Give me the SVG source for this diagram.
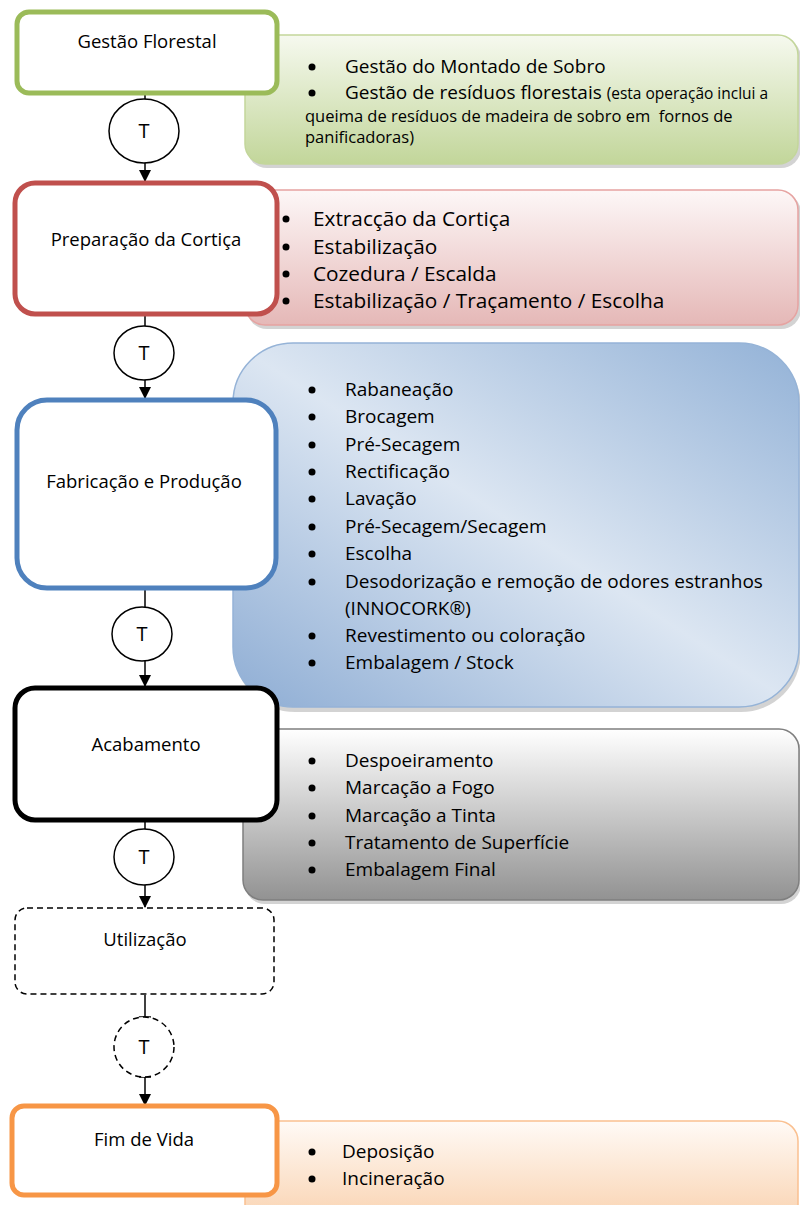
<svg xmlns="http://www.w3.org/2000/svg" width="800" height="1205" viewBox="0 0 800 1205">
<style>
text{font-family:"Open Sans",Lato,"Liberation Sans",sans-serif;fill:#000}
.lbl{font-size:18.5px;text-anchor:middle}
.it{font-size:19px}
.itr{font-size:20.8px}
.sm{font-size:16.5px}
.sm2{font-size:15.5px}
.node{fill:#fff;stroke-width:5}
.conn{stroke:#000;stroke-width:1.5;fill:none}
.tc{fill:#fff;stroke:#000;stroke-width:1.5}
.tt{font-size:20px;text-anchor:middle}
.sh{fill:#b5b5b5;opacity:.6}
</style>
<defs>
<linearGradient id="gG" x1="0" y1="0" x2="0" y2="1"><stop offset="0" stop-color="#f6f9ef"/><stop offset="1" stop-color="#c2d69a"/></linearGradient>
<linearGradient id="gR" x1="0" y1="0" x2="0" y2="1"><stop offset="0" stop-color="#fdf7f7"/><stop offset="1" stop-color="#e5b8b7"/></linearGradient>
<linearGradient id="gB" x1="0" y1="1" x2="1" y2="0"><stop offset="0" stop-color="#8eadd4"/><stop offset="0.5" stop-color="#dce6f2"/><stop offset="1" stop-color="#93b2d7"/></linearGradient>
<linearGradient id="gK" x1="0" y1="0" x2="0" y2="1"><stop offset="0" stop-color="#ffffff"/><stop offset="1" stop-color="#929292"/></linearGradient>
<linearGradient id="gO" x1="0" y1="0" x2="0" y2="1"><stop offset="0" stop-color="#fffaf6"/><stop offset="1" stop-color="#f9cfaa"/></linearGradient>
<marker id="ah" markerWidth="12" markerHeight="12" refX="11" refY="6" orient="auto" markerUnits="userSpaceOnUse"><path d="M0,0 L12,6 L0,12 z" fill="#000"/></marker>
</defs>

<g id="panel-green">
<rect class="sh" x="247" y="38" width="554" height="130" rx="20"/>
<rect x="245" y="35" width="553" height="129" rx="20" fill="url(#gG)" stroke="#c3d69b" stroke-width="1.5"/>
<circle cx="312" cy="67" r="3.5"/><text class="it" x="345" y="73">Gestão do Montado de Sobro</text>
<circle cx="312" cy="93" r="3.5"/><text class="it" x="345" y="99">Gestão de resíduos florestais <tspan class="sm2">(esta operação inclui a</tspan></text>
<text class="sm" x="305" y="122" xml:space="preserve">queima de resíduos de madeira de sobro em  fornos de</text>
<text class="sm" x="305" y="143">panificadoras)</text>
</g>

<g id="panel-red">
<rect class="sh" x="247" y="193" width="554" height="136" rx="20"/>
<rect x="245" y="190" width="553" height="135" rx="20" fill="url(#gR)" stroke="#e6a3a1" stroke-width="1.5"/>
<circle cx="286" cy="219" r="3.5"/><text class="itr" x="313" y="226">Extracção da Cortiça</text>
<circle cx="286" cy="247" r="3.5"/><text class="itr" x="313" y="254">Estabilização</text>
<circle cx="286" cy="274" r="3.5"/><text class="itr" x="313" y="281">Cozedura / Escalda</text>
<circle cx="286" cy="301" r="3.5"/><text class="itr" x="313" y="308">Estabilização / Traçamento / Escolha</text>
</g>

<g id="panel-blue">
<rect class="sh" x="235" y="346" width="566" height="366" rx="60"/>
<rect x="233" y="343" width="566" height="364" rx="60" fill="url(#gB)" stroke="#95b3d7" stroke-width="1.5"/>
<circle cx="312" cy="390" r="3.5"/><text class="it" x="345" y="396">Rabaneação</text>
<circle cx="312" cy="417" r="3.5"/><text class="it" x="345" y="423">Brocagem</text>
<circle cx="312" cy="445" r="3.5"/><text class="it" x="345" y="451">Pré-Secagem</text>
<circle cx="312" cy="472" r="3.5"/><text class="it" x="345" y="478">Rectificação</text>
<circle cx="312" cy="499" r="3.5"/><text class="it" x="345" y="505">Lavação</text>
<circle cx="312" cy="527" r="3.5"/><text class="it" x="345" y="533">Pré-Secagem/Secagem</text>
<circle cx="312" cy="554" r="3.5"/><text class="it" x="345" y="560">Escolha</text>
<circle cx="312" cy="582" r="3.5"/><text class="it" x="345" y="588">Desodorização e remoção de odores estranhos</text>
<text class="it" x="345" y="615">(INNOCORK®)</text>
<circle cx="312" cy="636" r="3.5"/><text class="it" x="345" y="642">Revestimento ou coloração</text>
<circle cx="312" cy="663" r="3.5"/><text class="it" x="345" y="669">Embalagem / Stock</text>
</g>

<g id="panel-grey">
<rect class="sh" x="245" y="732" width="556" height="172" rx="20"/>
<rect x="243" y="729" width="556" height="171" rx="20" fill="url(#gK)" stroke="#7f7f7f" stroke-width="1.5"/>
<circle cx="312" cy="761" r="3.5"/><text class="it" x="345" y="767">Despoeiramento</text>
<circle cx="312" cy="788" r="3.5"/><text class="it" x="345" y="794">Marcação a Fogo</text>
<circle cx="312" cy="816" r="3.5"/><text class="it" x="345" y="822">Marcação a Tinta</text>
<circle cx="312" cy="843" r="3.5"/><text class="it" x="345" y="849">Tratamento de Superfície</text>
<circle cx="312" cy="870" r="3.5"/><text class="it" x="345" y="876">Embalagem Final</text>
</g>

<g id="panel-orange">
<rect x="245" y="1121" width="553" height="110" rx="20" fill="url(#gO)" stroke="#fac090" stroke-width="1.5"/>
<circle cx="312" cy="1152" r="3.5"/><text class="it" x="342" y="1158">Deposição</text>
<circle cx="312" cy="1179" r="3.5"/><text class="it" x="342" y="1185">Incineração</text>
</g>

<g id="connectors">
<line class="conn" x1="145" y1="95" x2="145" y2="100"/>
<line class="conn" x1="145" y1="163" x2="145" y2="181" marker-end="url(#ah)"/>
<line class="conn" x1="145" y1="316" x2="145" y2="326"/>
<line class="conn" x1="145" y1="380" x2="145" y2="398" marker-end="url(#ah)"/>
<line class="conn" x1="145" y1="590" x2="145" y2="607"/>
<line class="conn" x1="145" y1="661" x2="145" y2="686" marker-end="url(#ah)"/>
<line class="conn" x1="145" y1="822" x2="145" y2="829"/>
<line class="conn" x1="145" y1="885" x2="145" y2="907" marker-end="url(#ah)"/>
<line class="conn" x1="145" y1="995" x2="145" y2="1017"/>
<line class="conn" x1="139" y1="1017" x2="151" y2="1017"/>
<line class="conn" x1="139" y1="1077" x2="151" y2="1077"/>
<line class="conn" x1="145" y1="1077" x2="145" y2="1105" marker-end="url(#ah)"/>
</g>

<g id="t1"><ellipse class="tc" cx="144" cy="131" rx="35" ry="32"/><text class="tt" x="144" y="138">T</text></g>
<g id="t2"><ellipse class="tc" cx="144" cy="353" rx="30" ry="27"/><text class="tt" x="144" y="360">T</text></g>
<g id="t3"><ellipse class="tc" cx="142" cy="634" rx="30" ry="27"/><text class="tt" x="142" y="641">T</text></g>
<g id="t4"><ellipse class="tc" cx="144" cy="857" rx="30" ry="28"/><text class="tt" x="144" y="864">T</text></g>
<g id="t5"><ellipse class="tc" cx="144" cy="1047" rx="30" ry="30" stroke-dasharray="6,4"/><text class="tt" x="144" y="1054">T</text></g>

<g id="n-gestao"><rect class="node" x="17" y="12" width="260" height="81" rx="12" stroke="#9bbb59"/><text class="lbl" x="147" y="48">Gestão Florestal</text></g>
<g id="n-preparacao"><rect class="node" x="15" y="183" width="262" height="131" rx="20" stroke="#c0504d"/><text class="lbl" x="146" y="246">Preparação da Cortiça</text></g>
<g id="n-fabricacao"><rect class="node" x="17" y="400" width="259" height="188" rx="30" stroke="#4f81bd"/><text class="lbl" x="144" y="488">Fabricação e Produção</text></g>
<g id="n-acabamento"><rect class="node" x="15" y="688" width="262" height="132" rx="20" stroke="#000"/><text class="lbl" x="146" y="751">Acabamento</text></g>
<g id="n-utilizacao"><rect x="15" y="908" width="259" height="86" rx="12" fill="#fff" stroke="#000" stroke-width="1.5" stroke-dasharray="6,4"/><text class="lbl" x="145" y="946">Utilização</text></g>
<g id="n-fim"><rect class="node" x="12" y="1106" width="265" height="89" rx="12" stroke="#f79646"/><text class="lbl" x="144" y="1146">Fim de Vida</text></g>
</svg>
